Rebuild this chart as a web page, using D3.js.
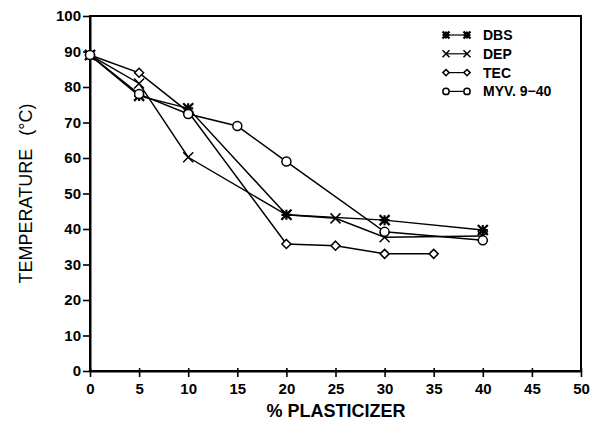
<!DOCTYPE html>
<html>
<head>
<meta charset="utf-8">
<script src="https://cdn.jsdelivr.net/npm/d3@7"></script>
<style>
  body { margin: 0; background: #fff; }
  text { font-family: "Liberation Sans", Arial, sans-serif; }
</style>
</head>
<body>
<div id="chart"></div>
<script>
// plasticizer level (%) and temperature (C) per plasticizer
var xTicks = [0, 5, 10, 15, 20, 25, 30, 35, 40, 45, 50];
var yTicks = [0, 10, 20, 30, 40, 50, 60, 70, 80, 90, 100];

var dbsX = [0, 5, 10, 20, 30, 40];
var dbsY = [89, 77.5, 74, 44, 42.5, 39.7];

var depX = [0, 5, 10, 20, 25, 30, 40];
var depY = [89, 81, 60.2, 44, 43, 37.7, 38];

var tecX = [0, 5, 10, 20, 25, 30, 35];
var tecY = [89, 84, 73, 35.8, 35.3, 33, 33];

var myvX = [0, 5, 10, 15, 20, 30, 40];
var myvY = [89, 78, 72.4, 69, 59, 39.2, 36.8];

var seriesNames = ["DBS", "DEP", "TEC", "MYV. 9\u221240"];
var seriesMarks = ["star", "cross", "diamond", "circle"];

var series = [
  {name: seriesNames[0], mark: seriesMarks[0], xs: dbsX, ys: dbsY},
  {name: seriesNames[1], mark: seriesMarks[1], xs: depX, ys: depY},
  {name: seriesNames[2], mark: seriesMarks[2], xs: tecX, ys: tecY},
  {name: seriesNames[3], mark: seriesMarks[3], xs: myvX, ys: myvY}
];

var svg = d3.select("#chart").append("svg").attr("width", 591).attr("height", 428),
    pLeft = 90, pRight = 581, pTop = 16, pBottom = 371;

var x = d3.scaleLinear().domain([0, 50]).range([pLeft, pRight]);
var y = d3.scaleLinear().domain([0, 100]).range([pBottom, pTop]);

// frame
svg.append("rect")
    .attr("x", pLeft).attr("y", pTop)
    .attr("width", pRight - pLeft).attr("height", pBottom - pTop)
    .style("fill", "none").style("stroke", "#000").style("stroke-width", 2);

var xAxis = svg.append("g")
    .attr("transform", "translate(0," + pBottom + ")")
    .call(d3.axisBottom(x).tickValues(xTicks).tickSize(6).tickSizeOuter(0));
var yAxis = svg.append("g")
    .attr("transform", "translate(" + pLeft + ",0)")
    .call(d3.axisLeft(y).tickValues(yTicks).tickSize(7).tickSizeOuter(0));

[xAxis, yAxis].forEach(function(a) {
    a.select(".domain").style("stroke", "#000").style("stroke-width", 2);
    a.selectAll(".tick line").style("stroke", "#000").style("stroke-width", 1.6);
    a.selectAll(".tick text")
        .style("font-family", "'Liberation Sans', Arial, sans-serif")
        .style("font-size", "15px").style("font-weight", "bold").style("fill", "#000");
});
xAxis.selectAll(".tick line").attr("y1", -3);
xAxis.selectAll(".tick text").attr("dy", "0.95em");
yAxis.selectAll(".tick text").attr("x", -9);

// axis titles
svg.append("text")
    .attr("x", 336).attr("y", 417)
    .attr("text-anchor", "middle")
    .style("font-size", "18px").style("font-weight", "bold")
    .text("% PLASTICIZER");

svg.append("text")
    .attr("transform", "translate(32," + ((pTop + pBottom) / 2) + ") rotate(-90)")
    .attr("text-anchor", "middle")
    .style("font-size", "18px")
    .style("word-spacing", "8px")
    .text("TEMPERATURE  (\u00B0C)");

function drawMark(g, kind, cx, cy, k) {
    k = k || 1;
    if (kind === "star") {
        var s = 5 * k;
        g.append("path")
            .attr("d", "M" + (cx - s) + "," + cy + "H" + (cx + s) +
                "M" + cx + "," + (cy - s) + "V" + (cy + s) +
                "M" + (cx - s) + "," + (cy - s) + "L" + (cx + s) + "," + (cy + s) +
                "M" + (cx - s) + "," + (cy + s) + "L" + (cx + s) + "," + (cy - s))
            .style("stroke", "#000").style("stroke-width", 2.2).style("fill", "none");
        g.append("circle").attr("cx", cx).attr("cy", cy).attr("r", 2.5 * k).style("fill", "#000");
    } else if (kind === "cross") {
        var c = 5 * k;
        g.append("path")
            .attr("d", "M" + (cx - c) + "," + (cy - c) + "L" + (cx + c) + "," + (cy + c) +
                "M" + (cx - c) + "," + (cy + c) + "L" + (cx + c) + "," + (cy - c))
            .style("stroke", "#000").style("stroke-width", 1.5).style("fill", "none");
    } else if (kind === "diamond") {
        var d = 4.5 * k;
        g.append("path")
            .attr("d", "M" + cx + "," + (cy - d) + "L" + (cx + d) + "," + cy +
                "L" + cx + "," + (cy + d) + "L" + (cx - d) + "," + cy + "Z")
            .style("stroke", "#000").style("stroke-width", 1.5).style("fill", "#fff");
    } else {
        g.append("circle").attr("cx", cx).attr("cy", cy).attr("r", 4.5 * k)
            .style("stroke", "#000").style("stroke-width", 1.5).style("fill", "#fff");
    }
}

var line = d3.line().x(function(d) { return x(d[0]); }).y(function(d) { return y(d[1]); });

series.forEach(function(s) {
    var pts = s.xs.map(function(v, i) { return [v, s.ys[i]]; });
    svg.append("path").datum(pts)
        .attr("d", line)
        .style("fill", "none").style("stroke", "#000").style("stroke-width", 1.5);
});
series.forEach(function(s) {
    var g = svg.append("g");
    s.xs.forEach(function(v, i) { drawMark(g, s.mark, x(v), y(s.ys[i])); });
});

// legend
var legend = svg.append("g");
series.forEach(function(s, i) {
    var ly = 35 + i * 18.8;
    legend.append("line").attr("x1", 446).attr("x2", 467).attr("y1", ly).attr("y2", ly)
        .style("stroke", "#000").style("stroke-width", 1.2);
    drawMark(legend, s.mark, 446, ly, 0.7);
    drawMark(legend, s.mark, 467, ly, 0.7);
    legend.append("text").attr("x", 483).attr("y", ly + 5)
        .style("font-size", "14px").style("font-weight", "bold")
        .text(s.name);
});
</script>
</body>
</html>
